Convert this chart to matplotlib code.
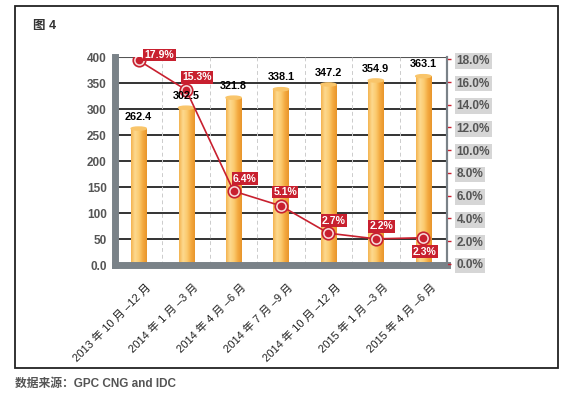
import numpy as np
import matplotlib
matplotlib.use("Agg")
import matplotlib.pyplot as plt
from matplotlib.patches import Rectangle, Ellipse
from matplotlib.colors import LinearSegmentedColormap
from matplotlib.transforms import ScaledTranslation

plt.rcParams['font.family'] = ['Liberation Sans', 'Noto Sans CJK SC', 'DejaVu Sans']

periods = ["2013 年 10 月 –12 月", "2014 年 1 月 –3 月", "2014 年 4 月 –6 月",
           "2014 年 7 月 –9 月", "2014 年 10 月 –12 月", "2015 年 1 月 –3 月",
           "2015 年 4 月 –6 月"]
shipments = [262.4, 302.5, 321.8, 338.1, 347.2, 354.9, 363.1]
growth = [17.9, 15.3, 6.4, 5.1, 2.7, 2.2, 2.3]
# label offsets (points) for growth labels
lab_off = [(15, 4), (8, 9), (8, 9), (3, 10), (4, 9), (4, 9), (1, -10)]

red = "#c8202f"
gray = "#7a8288"

fig = plt.figure(figsize=(5.67, 3.98), dpi=100)
fig.patches.append(Rectangle((15 / 567, 1 - 368 / 398), 543 / 567, 362 / 398,
                             transform=fig.transFigure, fill=False,
                             edgecolor="#222222", lw=1.3))
fig.text(33 / 567, 1 - 26 / 398, "图 4", fontsize=9, fontweight='bold',
         va='center', color="#333333")
fig.text(15 / 567, 1 - 384 / 398, "数据来源：GPC CNG and IDC", fontsize=8.5,
         fontweight='bold', va='center', color="#555555")

ax = fig.add_axes([115 / 567, 1 - 265 / 398, 332 / 567, 208 / 398])
xs = np.arange(len(periods))
w = 0.32
ax.set_xlim(-0.5, len(periods) - 0.5)
ax.set_ylim(0, 400)

# grid
for yv in range(50, 400, 50):
    ax.axhline(yv, color="#111111", lw=1.2, zorder=1)
ax.axhline(400, color="#555555", lw=1.5, zorder=1)
for xv in xs[:-1] + 0.5:
    ax.axvline(xv, color="#cccccc", lw=0.7, ls=(0, (4, 3)), zorder=1)

# gradient bars
cmap = LinearSegmentedColormap.from_list(
    "cyl", ["#f4b450", "#fdd98f", "#fbcb70", "#f4aa40", "#e8962c"])
grad = np.linspace(0, 1, 64).reshape(1, -1)
bars = ax.bar(xs, shipments, width=w, color="#f8bf5e", zorder=2)
for b, v in zip(bars, shipments):
    im = ax.imshow(grad, cmap=cmap, aspect='auto', zorder=2.1,
                   extent=(b.get_x(), b.get_x() + w, 0, v))
    im.set_clip_path(b)
    ax.add_patch(Ellipse((b.get_x() + w / 2, v), w, 6, color="#f9c56a", zorder=2.2))

for s in ['left', 'bottom']:
    ax.spines[s].set_color(gray)
    ax.spines[s].set_linewidth(5)
ax.spines['top'].set_visible(False)
ax.spines['right'].set_color(gray)
ax.spines['right'].set_linewidth(1.5)

ax.set_yticks(range(0, 401, 50))
ax.set_yticklabels(["0.0"] + [str(v) for v in range(50, 401, 50)])
ax.tick_params(axis='y', length=0, pad=6, labelsize=8.5, labelcolor="#555555")
for t in ax.get_yticklabels():
    t.set_fontweight('bold')
ax.set_xticks(xs)
ax.set_xticklabels(periods, rotation=45, ha='right', va='top',
                   rotation_mode='anchor', fontsize=8, color="#222222")
ax.tick_params(axis='x', length=0, pad=12)
for t in ax.get_xticklabels():
    t.set_transform(t.get_transform() + ScaledTranslation(5 / 72, 0, fig.dpi_scale_trans))

# growth line on right axis
ax2 = ax.twinx()
ax2.set_ylim(-0.1, 18.2)
ax2.plot(xs, growth, color=red, lw=1.2, zorder=3)
ax2.plot(xs, growth, 'o', ms=9, mfc="#f6dada", mec=red, mew=1.2, zorder=4)
ax2.plot(xs, growth, 'o', ms=4.5, color=red, zorder=4)
for x, g, (dx, dy) in zip(xs, growth, lab_off):
    ax2.annotate(f"{g:.1f}%", (x, g), xytext=(dx, dy), textcoords='offset points',
                 ha='center', va='center', fontsize=7.5, fontweight='bold',
                 color='white', zorder=6,
                 bbox=dict(boxstyle='square,pad=0.12', fc=red, ec='none'))
# bar value labels drawn on top of the line
for x, v in zip(xs, shipments):
    ax2.annotate(f"{v:.1f}", (x, v), xycoords=ax.transData, xytext=(0, 5),
                 textcoords='offset points', ha='center', va='bottom',
                 fontsize=7.8, fontweight='bold', color="black", zorder=7)
for s in ['left', 'bottom', 'top']:
    ax2.spines[s].set_visible(False)
ax2.spines['right'].set_color(gray)
ax2.spines['right'].set_linewidth(1.5)
ax2.set_yticks(np.arange(0, 18.1, 2))
ax2.set_yticklabels([f"{v:.1f}%" for v in np.arange(0, 18.1, 2)])
ax2.tick_params(axis='y', length=3, width=1, color=red, pad=4,
                labelsize=8.5, labelcolor="#555555")
for t in ax2.get_yticklabels():
    t.set_fontweight('bold')
    t.set_bbox(dict(boxstyle='square,pad=0.15', fc="#d6d6d6", ec='none'))

fig.savefig("out.png", dpi=100)
